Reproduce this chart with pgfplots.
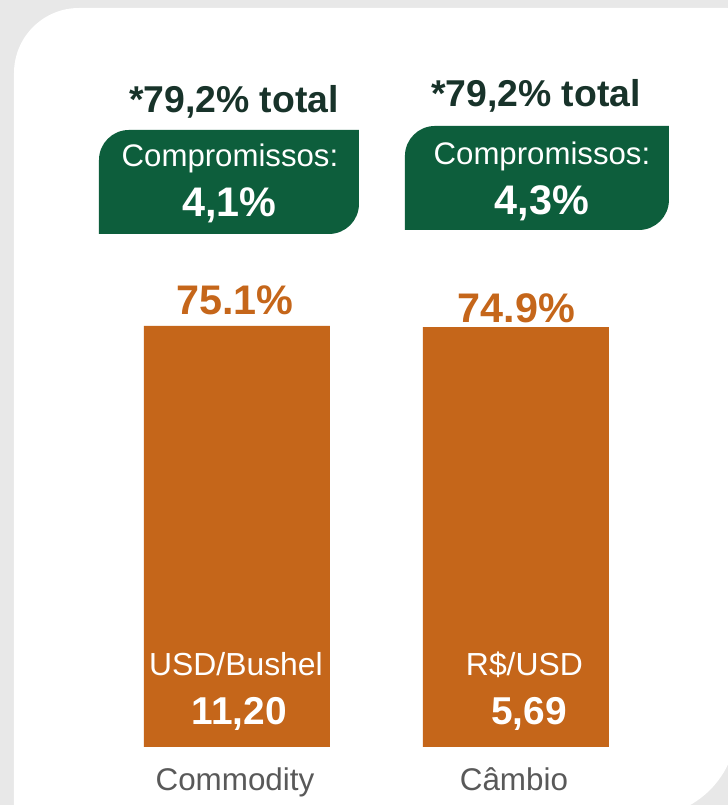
\documentclass[border=0pt]{standalone}
\usepackage{pgfplots}
\pgfplotsset{compat=1.18}
\usepackage{fontspec}
\setmainfont{Liberation Sans}
\definecolor{bggray}{HTML}{E8E8E8}
\definecolor{barorange}{HTML}{C5661A}
\definecolor{boxgreen}{HTML}{0D5E3C}
\definecolor{darktxt}{HTML}{18332A}
\definecolor{labelgray}{HTML}{595959}
\begin{document}
\begin{tikzpicture}[x=1bp,y=1bp]
\fill[bggray] (0,0) rectangle (728,805);
% card
\begin{scope}
\clip (0,0) rectangle (728,805);
\fill[white] (14,-12) -- (14,732) arc[start angle=180,end angle=90,radius=65]
  -- (727,797) arc[start angle=90,end angle=0,radius=10]
  -- (737,80) arc[start angle=0,end angle=-90,radius=92] -- cycle;
\end{scope}
% green boxes
\fill[boxgreen] (99,571) -- (99,645) arc[start angle=180,end angle=90,radius=30]
  -- (359,675) -- (359,601) arc[start angle=0,end angle=-90,radius=30] -- cycle;
\fill[boxgreen] (405,575) -- (405,649) arc[start angle=180,end angle=90,radius=30]
  -- (669,679) -- (669,605) arc[start angle=0,end angle=-90,radius=30] -- cycle;
\begin{axis}[
  scale only axis, width=728bp, height=805bp,
  xmin=-0.84946, xmax=1.75986, ymin=-10.346, ymax=133.25,
  axis y line=none, axis x line=bottom,
  x axis line style={draw=none},
  major tick length=0pt,
  xtick={0,1}, xticklabels={Commodity,Câmbio},
  xticklabel style={anchor=base, yshift=14bp, xshift=-2bp, text=labelgray,
    font=\fontsize{31.5}{36}\selectfont},
  ybar, bar width=186bp, clip=false]
\addplot[fill=barorange, draw=none] coordinates {(0,75.1) (1,74.9)};
\end{axis}
% texts
\node[anchor=base, text=darktxt, font=\bfseries\fontsize{37.5}{42}\selectfont, inner sep=0pt] at (234,692) {*79,2\% total};
\node[anchor=base, text=darktxt, font=\bfseries\fontsize{37.5}{42}\selectfont, inner sep=0pt] at (536,698) {*79,2\% total};
\node[anchor=base, text=white, font=\fontsize{31.3}{36}\selectfont, inner sep=0pt] at (230,638) {Compromissos:};
\node[anchor=base, text=white, font=\fontsize{31.3}{36}\selectfont, inner sep=0pt] at (542,640) {Compromissos:};
\node[anchor=base, text=white, font=\bfseries\fontsize{41.5}{46}\selectfont, inner sep=0pt] at (229.5,588) {4,1\%};
\node[anchor=base, text=white, font=\bfseries\fontsize{41.5}{46}\selectfont, inner sep=0pt] at (542,590) {4,3\%};
\node[anchor=base, text=barorange, font=\bfseries\fontsize{41.5}{46}\selectfont, inner sep=0pt] at (235,490) {75.1\%};
\node[anchor=base, text=barorange, font=\bfseries\fontsize{41.5}{46}\selectfont, inner sep=0pt] at (516.5,482) {74.9\%};
\node[anchor=base, text=white, font=\fontsize{32}{36}\selectfont, inner sep=0pt] at (236,129) {USD/Bushel};
\node[anchor=base, text=white, font=\fontsize{32}{36}\selectfont, inner sep=0pt] at (524.5,129) {R\$/USD};
\node[anchor=base, text=white, font=\bfseries\fontsize{39}{44}\selectfont, inner sep=0pt] at (239.5,80) {11,20};
\node[anchor=base, text=white, font=\bfseries\fontsize{39}{44}\selectfont, inner sep=0pt] at (529,80) {5,69};
\end{tikzpicture}
\end{document}
